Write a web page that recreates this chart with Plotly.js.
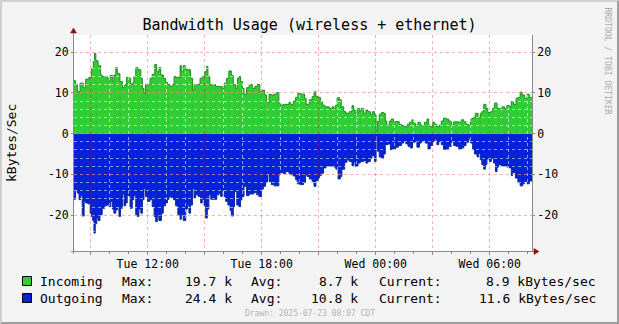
<!DOCTYPE html>
<html>
<head>
<meta charset="utf-8">
<script src="https://cdn.plot.ly/plotly-3.0.1.min.js"></script>
<style>
  html, body { margin: 0; padding: 0; background: #f3f3f3; }
  #wrap { position: relative; width: 619px; height: 324px; }
  #chart { position: absolute; left: 0; top: 0; width: 619px; height: 324px; }
  #frame { position: absolute; left: 0; top: 0; width: 619px; height: 324px; box-sizing: border-box;
           border-top: 2px solid #cfcfcf; border-left: 2px solid #cfcfcf;
           border-right: 2px solid #9e9e9e; border-bottom: 2px solid #9e9e9e; pointer-events: none; }
</style>
</head>
<body>
<div id="wrap"><div id="chart"></div><div id="frame"></div></div>
<script>
// ---- data (minutes after 2025-07-22 08:07, kBytes/sec) ----
const START = '2025-07-22T08:07:00Z';
const RANGE_MIN = [0, 1446.4];

const inMin = [0,5,11,19,29,37,47,55,61,65,69,76,84,89,105,114,121,126,132,137,145,153,160,166,174,179,184,189,195,202,211,216,221,226,232,240,247,255,261,268,274,282,289,295,303,311,316,324,335,339,345,353,360,368,374,379,387,398,405,413,419,423,429,437,447,455,468,474,482,489,497,503,511,516,521,526,532,537,545,553,563,571,579,587,595,602,608,616,623,632,640,647,653,661,679,684,693,700,707,716,
  728,733,743,752,758,764,771,778,785,792,799,806,815,820,825,831,838,844,852,859,869,878,883,888,894,901,907,915,922,928,936,943,949,954,958,964,971,978,983,988,996,1002,1009,1017,1027,1034,1041,1052,1059,1067,1073,1078,1086,1094,1101,1107,1115,1120,1125,1133,1139,1146,1154,1160,1167,1175,1183,1192,1199,1206,1215,1223,1231,1238,1246,1252,1259,1267,1276,1283,1288,1294,1301,1307,1315,1322,1328,1336,1343,1352,1360,1367,1375,1381,1388,1396,1402,1409,1415,1423,1431,1438,1447];
const inVal = [13.0,12.0,10.3,12.4,11.3,13.4,13.8,16.0,17.7,19.7,17.9,16.7,14.4,14.0,13.6,14.3,12.8,14.4,16.2,14.8,12.8,11.3,12.0,13.8,13.6,12.1,12.4,14.0,16.2,15.7,13.6,11.1,9.9,12.1,12.0,13.6,14.6,17.0,15.2,16.2,14.4,13.6,12.6,12.1,11.6,12.1,14.0,13.8,16.7,15.2,16.7,15.7,15.7,13.6,10.7,12.1,12.1,13.6,14.0,15.2,16.5,14.0,12.0,12.1,11.6,11.6,11.1,12.4,13.6,15.4,14.3,12.0,11.1,13.6,14.0,12.8,11.1,9.7,11.3,12.1,11.1,11.6,12.1,10.3,10.7,9.5,7.7,9.7,9.5,9.7,10.1,7.5,7.0,7.2,7.7,7.2,8.0,8.9,9.9,9.7,
  8.7,7.2,8.3,9.1,10.3,9.1,8.9,7.9,7.0,6.6,6.6,6.2,6.6,6.1,6.9,8.9,8.3,6.6,5.4,5.0,5.4,6.9,5.8,5.0,6.2,5.6,6.2,5.0,5.8,5.4,4.8,5.4,4.6,0.7,3.0,4.8,5.2,5.0,3.1,2.1,3.1,3.6,3.0,3.0,2.3,2.0,1.7,2.3,2.8,3.4,2.5,2.1,2.8,2.1,2.0,2.8,3.6,2.1,1.7,2.8,2.3,1.7,2.1,3.1,3.8,3.6,3.1,2.1,2.9,2.9,2.8,3.4,2.9,2.3,2.0,3.6,3.9,5.0,3.9,5.0,5.4,7.2,6.2,5.2,5.4,6.2,7.5,6.2,6.1,6.6,6.1,6.9,6.6,7.9,7.2,8.7,8.9,10.2,9.5,8.7,9.7,8.9,8.9];

const outMin = [0,5,11,16,21,26,32,37,44,51,55,59,63,67,72,76,82,89,97,103,111,116,121,126,132,137,142,147,153,158,163,168,177,184,189,195,200,205,211,216,221,226,232,240,247,253,258,263,268,276,282,289,295,300,305,314,321,328,335,339,345,353,358,363,368,374,379,384,392,400,405,411,416,421,426,432,442,451,458,463,468,474,479,486,493,497,503,507,514,521,526,532,537,545,553,560,568,577,584,592,598,605,611,616,623,632,647,653,661,668,679,684,693,700,705,714,
  725,731,736,743,752,758,764,771,775,781,788,796,805,813,820,827,834,841,846,855,862,869,878,883,888,897,904,915,922,928,936,941,949,954,958,964,971,978,983,992,999,1006,1015,1025,1034,1041,1048,1055,1062,1069,1076,1083,1091,1097,1104,1109,1118,1125,1133,1139,1146,1152,1160,1167,1175,1183,1192,1199,1206,1215,1223,1231,1238,1246,1252,1259,1265,1273,1278,1283,1288,1294,1299,1304,1312,1318,1325,1331,1336,1341,1349,1360,1367,1375,1381,1385,1394,1402,1409,1417,1423,1431,1438,1447];
const outVal = [16.1,13.9,14.6,16.2,15.2,20.2,16.6,17.0,17.2,19.5,20.3,21.3,24.4,22.1,20.7,21.3,19.9,18.3,17.7,17.5,17.9,16.6,18.5,19.5,18.7,18.0,20.3,18.3,14.8,17.7,17.0,15.2,18.3,16.2,15.2,19.9,20.3,18.5,19.5,16.2,13.4,15.4,16.6,16.1,17.9,20.3,21.6,20.2,21.3,19.5,17.7,17.0,16.1,15.4,15.6,16.2,17.7,19.9,21.0,19.9,21.3,18.5,17.5,19.5,17.5,13.4,15.8,15.0,15.4,17.0,16.1,17.7,20.7,18.5,15.0,16.1,16.1,15.0,14.6,15.4,13.8,15.4,16.6,17.5,18.9,20.2,17.9,14.2,17.5,17.9,16.2,15.4,12.9,15.2,14.8,14.8,14.4,15.0,15.4,13.6,12.9,12.0,9.8,11.7,12.5,12.8,10.1,9.5,9.8,9.3,9.8,10.1,10.4,11.3,12.3,12.5,
  12.0,10.1,10.5,11.1,11.7,12.9,11.5,10.9,10.3,9.7,8.4,8.0,7.9,8.0,8.2,8.7,11.1,10.5,8.7,7.0,6.4,6.8,7.9,7.0,8.0,7.2,6.8,6.6,7.2,6.8,6.0,5.4,6.8,0.5,4.3,5.7,6.0,5.0,2.7,2.5,3.9,3.8,3.3,2.9,2.3,1.9,2.5,3.1,3.5,2.1,1.9,3.3,2.3,1.9,1.6,2.3,3.8,2.9,1.9,1.5,2.7,1.9,2.7,3.8,3.9,3.1,1.9,2.9,3.1,3.8,3.5,2.9,2.1,1.3,2.3,3.8,5.0,5.7,4.8,6.4,7.6,8.7,7.6,6.2,6.8,6.0,7.2,9.3,8.2,7.6,7.9,7.9,8.2,8.4,10.3,9.5,10.9,12.0,12.8,12.3,11.7,12.3,11.6,11.6];

const yTickVals = [-20, -10, 0, 10, 20];
const yTickText = ['-20', '-10', '0', '10', '20'];
const yRange = [-28.79, 24.22];
const xTickTimes = ['2025-07-22 12:00:00', '2025-07-22 18:00:00', '2025-07-23 00:00:00', '2025-07-23 06:00:00'];
const xTickText = ['Tue 12:00', 'Tue 18:00', 'Wed 00:00', 'Wed 06:00'];

const seriesNames = ['Incoming', 'Outgoing'];
const maxVals = ['19.7 k', '24.4 k'];
const avgVals = ['8.7 k', '10.8 k'];
const curVals = ['8.9', '11.6'];
const unitText = 'kBytes/sec';
const titleText = 'Bandwidth Usage (wireless + ethernet)';
const yTitle = 'kBytes/Sec';
const drawnText = 'Drawn: 2025-07-23 08:07 CDT';
const sideText = 'RRDTOOL / TOBI OETIKER';

// ---- helpers ----
function minToDate(m) {
  const d = new Date(Date.parse(START) + m * 60000);
  return d.toISOString().slice(0, 19).replace('T', ' ');
}
const FONT = 'DejaVu Sans Mono, monospace';
const GREEN = '#32cd32', GREEN_LINE = '#1f8f1f';
const BLUE = '#0522d8', BLUE_LINE = '#0b2a96';
const MAJOR = 'rgba(235,0,0,0.30)';
const MINOR = 'rgba(255,255,255,0.55)';
const AXIS = '#8a8a8a';
const ARROW = '#8b1010';

const xRange = RANGE_MIN.map(minToDate);

const traces = [
  { x: inMin.map(minToDate), y: inVal, type: 'scatter', mode: 'lines', line: { shape: 'hv', color: GREEN_LINE, width: 1 },
    fill: 'tozeroy', fillcolor: GREEN, hoverinfo: 'skip', xaxis: 'x', yaxis: 'y' },
  { x: outMin.map(minToDate), y: outVal.map(v => -v), type: 'scatter', mode: 'lines', line: { shape: 'hv', color: BLUE_LINE, width: 1 },
    fill: 'tozeroy', fillcolor: BLUE, hoverinfo: 'skip', xaxis: 'x', yaxis: 'y' },
  // carrier for the grid overlay subplot (draws nothing)
  { x: [xRange[0]], y: [0], type: 'scatter', mode: 'none', hoverinfo: 'skip', xaxis: 'x2', yaxis: 'y2' }
];

function legendRow(r, ypx) {
  const ys = 251 - ypx;
  const base = { xref: 'paper', yref: 'paper', x: 0, y: 0, yshift: ys, yanchor: 'middle', showarrow: false,
                 font: { family: FONT, size: 13, color: '#000' } };
  return [
    Object.assign({}, base, { text: seriesNames[r], xanchor: 'left', xshift: -36 }),
    Object.assign({}, base, { text: 'Max:', xanchor: 'left', xshift: 46 }),
    Object.assign({}, base, { text: maxVals[r], xanchor: 'right', xshift: 160 }),
    Object.assign({}, base, { text: 'Avg:', xanchor: 'left', xshift: 175 }),
    Object.assign({}, base, { text: avgVals[r], xanchor: 'right', xshift: 286 }),
    Object.assign({}, base, { text: 'Current:', xanchor: 'left', xshift: 303 }),
    Object.assign({}, base, { text: curVals[r] + ' ' + unitText, xanchor: 'right', xshift: 524 })
  ];
}

const annotations = [].concat(
  legendRow(0, 281), legendRow(1, 298),
  [
    { xref: 'paper', yref: 'paper', x: 0, y: 0.5, xshift: -63, textangle: -90, showarrow: false,
      text: yTitle, font: { family: FONT, size: 13, color: '#000' }, xanchor: 'center', yanchor: 'middle' },
    { xref: 'paper', yref: 'paper', x: 0, y: 0, xshift: 235.5, yshift: -62, showarrow: false, xanchor: 'center', yanchor: 'middle',
      text: drawnText, font: { family: FONT, size: 8, color: '#b4b4b4' } },
    { xref: 'paper', yref: 'paper', x: 1, y: 1, xshift: 76, yshift: 30, showarrow: false, xanchor: 'center', yanchor: 'top',
      textangle: 90, text: sideText, font: { family: FONT, size: 8.1, color: '#ababab' } }
  ]
);

function sq(ypx, color) {
  const yc = 251 - ypx;
  return { type: 'rect', xref: 'paper', yref: 'paper', xsizemode: 'pixel', ysizemode: 'pixel', xanchor: 0, yanchor: 0,
           x0: -51.5, x1: -42.5, y0: yc - 4.5, y1: yc + 4.5, fillcolor: color, line: { color: '#000', width: 1 }, layer: 'above' };
}

const shapes = [
  { type: 'rect', xref: 'paper', yref: 'paper', x0: 0, x1: 1, y0: 0, y1: 1, fillcolor: '#ffffff', line: { width: 0 }, layer: 'below' },
  // axis line extensions
  { type: 'line', xref: 'paper', yref: 'paper', xsizemode: 'pixel', ysizemode: 'pixel', xanchor: 0, yanchor: 0,
    x0: -0.5, x1: -0.5, y0: -3, y1: 219, line: { color: AXIS, width: 1 }, layer: 'above' },
  { type: 'line', xref: 'paper', yref: 'paper', xsizemode: 'pixel', ysizemode: 'pixel', xanchor: 0, yanchor: 0,
    x0: -3, x1: 462, y0: -0.5, y1: -0.5, line: { color: AXIS, width: 1 }, layer: 'above' },
  // arrows
  { type: 'path', xref: 'paper', yref: 'paper', xsizemode: 'pixel', ysizemode: 'pixel', xanchor: 0, yanchor: 1,
    path: 'M -3.5,2 L 2.5,2 L -0.5,7 Z', fillcolor: ARROW, line: { color: ARROW, width: 0.5 }, layer: 'above' },
  { type: 'path', xref: 'paper', yref: 'paper', xsizemode: 'pixel', ysizemode: 'pixel', xanchor: 1, yanchor: 0,
    path: 'M 2,2.5 L 2,-3.5 L 7,-0.5 Z', fillcolor: ARROW, line: { color: ARROW, width: 0.5 }, layer: 'above' },
  sq(281, GREEN), sq(298, BLUE)
];

const tickFont = { family: FONT, size: 11.5, color: '#000' };

const layout = {
  width: 619, height: 324,
  margin: { l: 74, r: 87, t: 35, b: 73, pad: 0 },
  paper_bgcolor: '#f3f3f3',
  plot_bgcolor: 'rgba(0,0,0,0)',
  showlegend: false,
  title: { text: titleText, font: { family: FONT, size: 15, color: '#000' }, x: 0.5, xref: 'container', xanchor: 'center',
           y: 1 - 25 / 324, yref: 'container', yanchor: 'middle' },
  xaxis: { type: 'date', range: xRange, domain: [0, 1], anchor: 'y', showgrid: false, zeroline: false, showline: false,
           tickmode: 'array', tickvals: xTickTimes, ticktext: xTickText, ticks: '', ticklabelstandoff: 4,
           tickfont: tickFont, fixedrange: true },
  yaxis: { range: yRange, domain: [0, 1], anchor: 'x', showgrid: false, zeroline: false, showline: false,
           tickmode: 'array', tickvals: yTickVals, ticktext: yTickText, ticks: 'outside', ticklen: 2, tickcolor: AXIS,
           tickfont: tickFont, fixedrange: true },
  xaxis2: { type: 'date', range: xRange, domain: [0, 1], anchor: 'y2', showticklabels: false, zeroline: false, showline: false,
            tickmode: 'linear', tick0: '2025-07-22 00:00:00', dtick: 3 * 3600000,
            showgrid: true, gridcolor: MAJOR, griddash: '3px,3px', gridwidth: 1,
            ticks: 'outside', ticklen: 3, tickcolor: AXIS,
            minor: { tickmode: 'linear', tick0: '2025-07-22 00:00:00', dtick: 3600000, showgrid: true, gridcolor: MINOR,
                     griddash: '3px,3px', gridwidth: 1, ticks: 'outside', ticklen: 2, tickcolor: AXIS },
            fixedrange: true },
  yaxis2: { range: yRange, domain: [0, 1], anchor: 'x2', side: 'right', zeroline: false, showline: true, linecolor: AXIS, linewidth: 1,
            tickmode: 'array', tickvals: yTickVals, ticktext: yTickText, ticks: 'outside', ticklen: 2, tickcolor: AXIS,
            tickfont: tickFont, showgrid: true, gridcolor: MAJOR, griddash: '3px,3px', gridwidth: 1,
            minor: { tickmode: 'linear', tick0: 0, dtick: 2, showgrid: true, gridcolor: MINOR, griddash: '3px,3px', gridwidth: 1 },
            fixedrange: true },
  shapes: shapes,
  annotations: annotations
};

Plotly.newPlot('chart', traces, layout, { staticPlot: true, displayModeBar: false });
</script>
</body>
</html>
